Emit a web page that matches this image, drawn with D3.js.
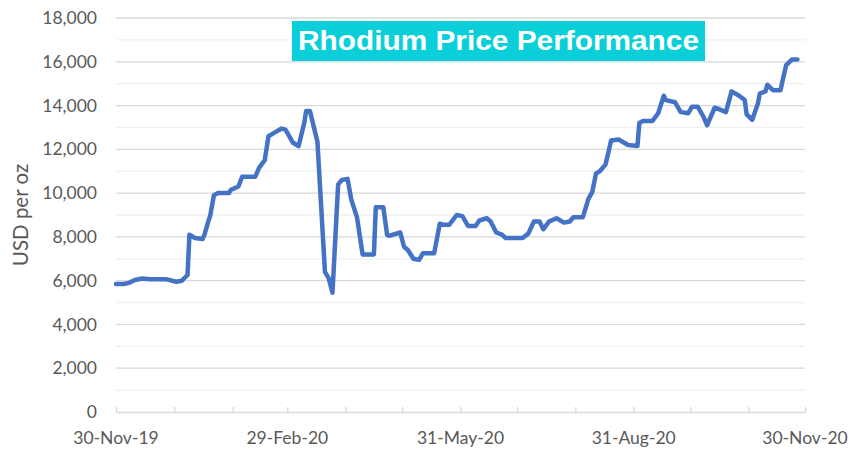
<!DOCTYPE html>
<html>
<head>
<meta charset="utf-8">
<script src="https://cdn.jsdelivr.net/npm/d3@7"></script>
<style>
  html, body { margin: 0; padding: 0; background: #ffffff; }
  svg { display: block; }
</style>
</head>
<body>
<svg id="chart" width="849" height="449"></svg>
<script>
// ---------- DATA ----------
const dates = [
  "2019-11-30","2019-12-04","2019-12-07","2019-12-10","2019-12-14","2019-12-18","2019-12-27",
  "2020-01-01","2020-01-04","2020-01-07","2020-01-08","2020-01-11","2020-01-15","2020-01-16",
  "2020-01-18","2020-01-19","2020-01-21","2020-01-23","2020-01-29","2020-01-30","2020-02-03",
  "2020-02-05","2020-02-12","2020-02-14","2020-02-17","2020-02-19","2020-02-22","2020-02-26",
  "2020-02-28","2020-03-01","2020-03-03","2020-03-06","2020-03-09","2020-03-10","2020-03-12",
  "2020-03-14","2020-03-16","2020-03-20","2020-03-22","2020-03-24","2020-03-27","2020-03-29",
  "2020-04-01","2020-04-03","2020-04-06","2020-04-09","2020-04-15","2020-04-16","2020-04-20",
  "2020-04-22","2020-04-23","2020-04-29","2020-05-01","2020-05-03","2020-05-06","2020-05-09",
  "2020-05-11","2020-05-17","2020-05-20","2020-05-22","2020-05-25","2020-05-29","2020-06-01",
  "2020-06-04","2020-06-08","2020-06-10","2020-06-14","2020-06-16","2020-06-19","2020-06-22",
  "2020-06-24","2020-07-03","2020-07-06","2020-07-09","2020-07-12","2020-07-14","2020-07-17",
  "2020-07-21","2020-07-25","2020-07-28","2020-07-30","2020-08-04","2020-08-07","2020-08-09",
  "2020-08-11","2020-08-13","2020-08-16","2020-08-17","2020-08-19","2020-08-23","2020-08-28",
  "2020-09-02","2020-09-03","2020-09-05","2020-09-10","2020-09-13","2020-09-16","2020-09-17",
  "2020-09-22","2020-09-25","2020-09-29","2020-10-01","2020-10-04","2020-10-07","2020-10-09",
  "2020-10-13","2020-10-15","2020-10-19","2020-10-22","2020-10-26","2020-10-29","2020-10-30",
  "2020-11-02","2020-11-05","2020-11-06","2020-11-09","2020-11-10","2020-11-13","2020-11-17",
  "2020-11-18","2020-11-20","2020-11-23","2020-11-26"
];
const prices = [
  5850,5850,5900,6030,6100,6060,6060,
  5950,6000,6260,8100,7950,7900,8100,
  8700,8950,9900,10000,10000,10150,10300,
  10750,10750,11150,11500,12600,12750,12950,
  12900,12600,12300,12150,13200,13750,13750,
  13050,12350,6400,6100,5450,10400,10600,
  10650,9700,8900,7200,7200,9350,9350,
  8100,8050,8200,7550,7400,7000,6950,
  7250,7250,8600,8550,8550,9000,8950,
  8500,8500,8750,8850,8700,8200,8100,
  7950,7950,8150,8700,8700,8350,8700,
  8850,8650,8700,8900,8900,9750,10050,
  10900,11000,11300,11650,12400,12450,12200,
  12150,13200,13300,13300,13650,14450,14250,
  14150,13700,13650,13950,13950,13500,13100,
  13900,13850,13700,14650,14450,14250,13600,
  13350,14100,14550,14650,14950,14700,14700,
  15100,15850,16100,16100
];
const yTicks = [0,2000,4000,6000,8000,10000,12000,14000,16000,18000];
const yMinorTicks = [1000,3000,5000,7000,9000,11000,13000,15000,17000];
const xTickDates = [
  "2019-11-30","2019-12-31","2020-01-31","2020-02-29","2020-03-31","2020-04-30","2020-05-31",
  "2020-06-30","2020-07-31","2020-08-31","2020-09-30","2020-10-31","2020-11-30"
];
const xLabelDates = ["2019-11-30","2020-02-29","2020-05-31","2020-08-31","2020-11-30"];
const chartTitle = "Rhodium Price Performance";
const yAxisTitle = "USD per oz";

// ---------- CHART ----------
(function () {
const parse = d3.timeParse("%Y-%m-%d");
const fmtDate = d3.timeFormat("%d-%b-%y");
const fmtNum = d3.format(",");
const series = dates.map((d, i) => ({ date: parse(d), value: prices[i] }));

const svg = d3.select("#chart");
const pLeft = 116, pRight = 805, pTop = 18, pBottom = 412;

const x = d3.scaleTime()
  .domain([parse("2019-11-30"), parse("2020-11-30")])
  .range([pLeft, pRight]);
const y = d3.scaleLinear().domain([0, 18000]).range([pBottom, pTop]);

const labelFont = "Lato, 'Open Sans', sans-serif";
const gray = "#595959";

// minor gridlines
svg.append("g").selectAll("line").data(yMinorTicks).join("line")
  .attr("x1", pLeft).attr("x2", pRight)
  .attr("y1", d => y(d)).attr("y2", d => y(d))
  .attr("stroke", "#f0f0f0").attr("stroke-width", 1.3);

// major gridlines
svg.append("g").selectAll("line").data(yTicks.filter(d => d > 0)).join("line")
  .attr("x1", pLeft).attr("x2", pRight)
  .attr("y1", d => y(d)).attr("y2", d => y(d))
  .attr("stroke", "#d9d9d9").attr("stroke-width", 1.3);

// y axis labels
const yAxis = d3.axisLeft(y).tickValues(yTicks).tickFormat(fmtNum).tickSize(0).tickPadding(19);
const gy = svg.append("g").attr("transform", `translate(${pLeft},0)`).call(yAxis);
gy.select(".domain").remove();
gy.selectAll("text").attr("fill", gray).attr("font-family", labelFont).attr("font-size", 17.5);

// x axis
const xAxis = d3.axisBottom(x).tickValues(xTickDates.map(parse)).tickFormat("").tickSizeInner(-5).tickSizeOuter(0);
const gx = svg.append("g").attr("transform", `translate(0,${pBottom})`).call(xAxis);
gx.select(".domain").attr("stroke", "#d9d9d9").attr("stroke-width", 1.3);
gx.selectAll(".tick line").attr("stroke", "#d9d9d9").attr("stroke-width", 1.3);

svg.append("g").selectAll("text").data(xLabelDates.map(parse)).join("text")
  .attr("x", d => x(d)).attr("y", 444)
  .attr("text-anchor", "middle")
  .attr("fill", gray).attr("font-family", labelFont).attr("font-size", 17.5)
  .text(d => fmtDate(d));

// y axis title
svg.append("text")
  .attr("transform", `translate(28,${(pTop + pBottom) / 2}) rotate(-90)`)
  .attr("text-anchor", "middle")
  .attr("fill", gray).attr("font-family", labelFont).attr("font-size", 20.5)
  .text(yAxisTitle);

// line
const line = d3.line().x(d => x(d.date)).y(d => y(d.value)).curve(d3.curveLinear);
svg.append("path").datum(series)
  .attr("d", line)
  .attr("fill", "none")
  .attr("stroke", "#4472c4")
  .attr("stroke-width", 4.5)
  .attr("stroke-linejoin", "round")
  .attr("stroke-linecap", "round");

// title box
svg.append("rect")
  .attr("x", 292).attr("y", 21).attr("width", 413).attr("height", 40)
  .attr("fill", "#0acfd8");
svg.append("text")
  .attr("x", 298).attr("y", 50)
  .attr("fill", "#ffffff")
  .attr("font-family", "'Liberation Sans', Arial, sans-serif")
  .attr("font-weight", "bold")
  .attr("font-size", 27)
  .attr("textLength", 401)
  .attr("lengthAdjust", "spacingAndGlyphs")
  .text(chartTitle);
})();
</script>
</body>
</html>
